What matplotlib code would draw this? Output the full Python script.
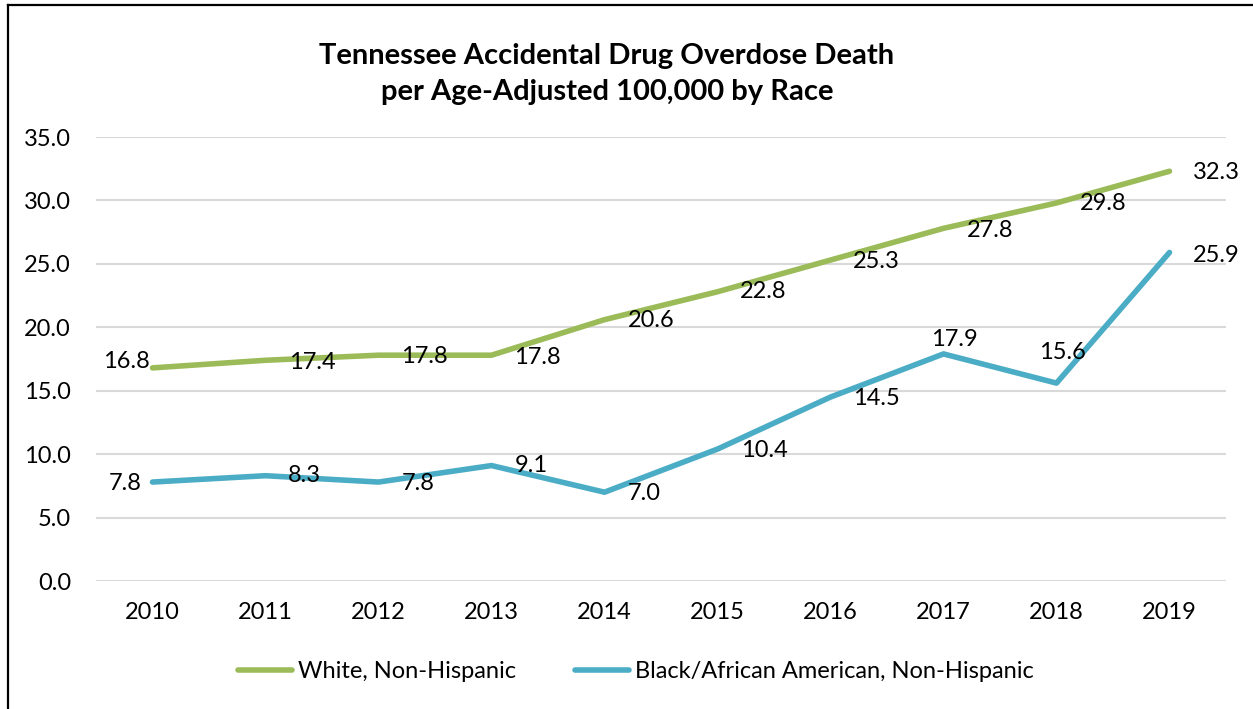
import matplotlib.pyplot as plt
from matplotlib.lines import Line2D

plt.rcParams['font.family'] = ['Lato', 'DejaVu Sans']

# data
years = ["2010", "2011", "2012", "2013", "2014", "2015", "2016", "2017", "2018", "2019"]
white = [16.8, 17.4, 17.8, 17.8, 20.6, 22.8, 25.3, 27.8, 29.8, 32.3]
black = [7.8, 8.3, 7.8, 9.1, 7.0, 10.4, 14.5, 17.9, 15.6, 25.9]
white_name = "White, Non-Hispanic"
black_name = "Black/African American, Non-Hispanic"
title = "Tennessee Accidental Drug Overdose Death\nper Age-Adjusted 100,000 by Race"

green = "#9BBB59"
blue = "#4BACC6"

# label placement (ha, dx px, dy px) - mimics the manual placement in the original
white_lbl = [("right", -3, 6), ("left", 24, -2), ("left", 23, -1), ("left", 23, -2), ("left", 23, -1),
             ("left", 22, 0), ("left", 22, -1), ("left", 23, -2), ("left", 23, -1), ("left", 23, -1)]
black_lbl = [("right", -11, -1), ("left", 22, 0), ("left", 23, -1), ("left", 23, 0), ("left", 23, -1),
             ("left", 24, -1), ("left", 23, -1), ("left", -12, 14), ("left", -17, 31), ("left", 23, -3)]

W, H = 1253, 709
fig = plt.figure(figsize=(W / 100, H / 100), dpi=100)
ax = fig.add_axes([96 / W, 1 - 581 / H, (1226 - 96) / W, (581 - 137) / H])

xs = list(range(len(years)))
ax.plot(xs, white, color=green, lw=4, solid_capstyle='round', solid_joinstyle='round', label=white_name, zorder=3)
ax.plot(xs, black, color=blue, lw=4, solid_capstyle='round', solid_joinstyle='round', label=black_name, zorder=3)

fs = 17
for vals, lbls in ((white, white_lbl), (black, black_lbl)):
    for i, v in enumerate(vals):
        ha, dx, dy = lbls[i]
        ax.annotate("%.1f" % v, (i, v), xytext=(dx, dy), textcoords='offset pixels',
                    ha=ha, va='center', fontsize=fs, color='black', zorder=4)

ax.set_xlim(-0.5, len(years) - 0.5)
ax.set_ylim(0, 35)
ax.set_yticks([0, 5, 10, 15, 20, 25, 30, 35])
ax.set_yticklabels(["%.1f" % t for t in ax.get_yticks()])
ax.set_xticks(xs)
ax.set_xticklabels(years)
ax.tick_params(axis='y', length=0, pad=18, labelsize=fs)
ax.tick_params(axis='x', length=0, pad=15, labelsize=fs)
ax.grid(axis='y', color='#D9D9D9', lw=1.5)
ax.set_axisbelow(True)
for s in ax.spines.values():
    s.set_visible(False)

fig.text(607 / W, 1 - 74 / H, title, ha='center', va='center', fontsize=21, fontweight='bold',
         linespacing=1.45)

fig.legend(loc='center', bbox_to_anchor=(636 / W, 1 - 672 / H), ncol=2, frameon=False, fontsize=fs,
           handlelength=2.3, handletextpad=0.25, columnspacing=2.5)

# outer chart frame (left and top edges visible)
fig.add_artist(Line2D([7.5 / W, 7.5 / W], [0, 1 - 5 / H], color='black', lw=1.6, transform=fig.transFigure))
fig.add_artist(Line2D([7.5 / W, 1], [1 - 5 / H, 1 - 5 / H], color='black', lw=1.6, transform=fig.transFigure))

fig.savefig("out.png", dpi=100)
